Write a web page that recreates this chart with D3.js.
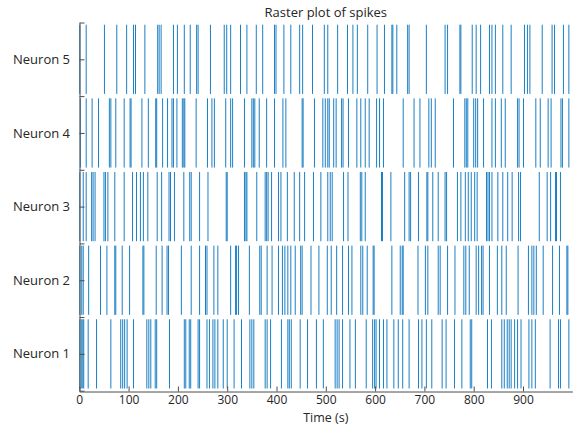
<!DOCTYPE html>
<html>
<head>
<meta charset="utf-8">
<script src="https://cdn.jsdelivr.net/npm/d3@7"></script>
<style>
    body { margin: 0; background: #fff; }
    text { font-family: "Open Sans", sans-serif; fill: #262626; }
</style>
</head>
<body>
<div id="root"></div>
<script>
// ---------------------------- DATA ----------------------------
// Spike times (s), one array per neuron
const neuron1 = [1, 4, 7, 9, 18, 35, 64, 84, 88, 92, 97, 110, 137, 141, 145, 154, 157, 183, 213, 216, 223, 226, 241, 244, 259, 264, 271, 275, 281, 292, 300, 314, 329, 346, 350, 354, 377, 381, 388, 410, 423, 426, 430, 448, 463, 481, 495, 519, 523, 527, 534, 549, 560, 582, 595, 599, 602, 609, 617, 624, 638, 647, 656, 669, 688, 695, 704, 715, 736, 744, 761, 776, 793, 796, 828, 836, 857, 862, 868, 872, 876, 883, 889, 896, 912, 918, 925, 955, 972, 976, 993];
const neuron2 = [1, 5, 8, 19, 43, 56, 72, 74, 87, 102, 129, 131, 156, 168, 178, 181, 207, 227, 244, 256, 259, 273, 281, 307, 317, 319, 323, 345, 366, 369, 381, 391, 404, 412, 417, 423, 429, 438, 449, 452, 470, 486, 503, 511, 522, 534, 546, 553, 571, 575, 584, 596, 598, 634, 651, 655, 657, 687, 702, 707, 728, 732, 747, 762, 780, 784, 791, 805, 810, 816, 819, 832, 848, 857, 866, 890, 911, 918, 922, 927, 941, 960, 974, 989, 991];
const neuron3 = [1, 8, 14, 25, 28, 32, 50, 53, 58, 72, 91, 108, 116, 124, 130, 139, 158, 167, 182, 185, 193, 212, 224, 227, 244, 261, 298, 300, 335, 338, 340, 360, 377, 380, 383, 390, 404, 409, 422, 436, 447, 457, 475, 490, 504, 509, 513, 536, 545, 570, 573, 580, 613, 615, 632, 660, 669, 672, 688, 705, 707, 717, 728, 742, 745, 767, 774, 783, 789, 795, 802, 807, 826, 829, 832, 837, 849, 859, 869, 878, 891, 895, 933, 949, 956, 966, 968, 976];
const neuron4 = [2, 14, 26, 39, 61, 64, 74, 91, 103, 105, 127, 140, 155, 157, 169, 179, 188, 191, 198, 209, 212, 214, 237, 260, 269, 274, 297, 307, 311, 335, 350, 353, 356, 365, 380, 396, 413, 419, 452, 454, 477, 494, 499, 504, 507, 516, 521, 532, 535, 546, 563, 571, 580, 588, 603, 609, 617, 657, 679, 691, 709, 714, 722, 759, 782, 785, 788, 800, 804, 808, 820, 837, 844, 856, 864, 889, 892, 901, 926, 935, 951, 957, 977, 980, 993];
const neuron5 = [1, 14, 51, 76, 96, 110, 114, 133, 159, 162, 166, 191, 199, 213, 225, 238, 241, 266, 294, 299, 307, 327, 340, 359, 372, 396, 399, 415, 429, 447, 453, 473, 497, 504, 524, 544, 555, 564, 585, 604, 619, 634, 636, 644, 666, 669, 704, 742, 747, 772, 774, 797, 805, 814, 832, 837, 844, 859, 876, 903, 909, 914, 939, 959, 964, 982, 993];

const spikeTrains = [neuron1, neuron2, neuron3, neuron4, neuron5];
const neuronLabels = ["Neuron 1", "Neuron 2", "Neuron 3", "Neuron 4", "Neuron 5"];
const timeTicks = [0, 100, 200, 300, 400, 500, 600, 700, 800, 900];

// ---------------------------- SETUP ----------------------------
const width = 576;
const height = 427;
const spikeColor = "#0072BD";
const axisColor = "#4d4d4d";

const x = d3.scaleLinear()
    .domain([0, 1000])
    .range([79.3, 572.3]);
const y = d3.scaleLinear()
    .domain([0.5, 5.5])
    .range([390.7, 22.5]);

const svg = d3.select("#root")
    .append("svg")
    .attr("width", width)
    .attr("height", height);

// ---------------------------- SPIKES ----------------------------
spikeTrains.forEach((train, i) => {
    svg.append("g")
        .attr("class", "neuron")
        .selectAll("line")
        .data(train)
        .enter()
        .append("line")
        .attr("x1", d => x(d))
        .attr("x2", d => x(d))
        .attr("y1", y(i + 1 - 0.47))
        .attr("y2", y(i + 1 + 0.47))
        .attr("stroke", spikeColor)
        .attr("stroke-width", 0.9);
});

// ---------------------------- AXES ----------------------------
// x axis, ticks pointing inwards (MATLAB style)
const xAxis = svg.append("g")
    .attr("transform", "translate(0," + Math.round(y(0.5)) + ".5)")
    .call(d3.axisBottom(x).tickValues(timeTicks).tickSize(-5).tickPadding(4).tickSizeOuter(0));
xAxis.select(".domain").attr("stroke", axisColor);
xAxis.selectAll(".tick line").attr("stroke", axisColor);
xAxis.selectAll(".tick text")
    .attr("dy", "0.71em")
    .style("font-family", "Open Sans, sans-serif")
    .style("font-size", "12px")
    .attr("fill", "#404040");

// y axis: ticks at every half step, labels only on neurons
const yAxis = svg.append("g")
    .attr("transform", "translate(" + Math.round(x(0)) + ".5,0)")
    .call(d3.axisLeft(y).tickValues([0.5, 1, 1.5, 2, 2.5, 3, 3.5, 4, 4.5, 5, 5.5]).tickSize(-5).tickSizeOuter(0).tickFormat(""));
yAxis.select(".domain").attr("stroke", axisColor);
yAxis.selectAll(".tick line").attr("stroke", axisColor);

svg.append("g")
    .selectAll("text")
    .data(neuronLabels)
    .enter()
    .append("text")
    .attr("x", 70)
    .attr("y", (d, i) => y(i + 1))
    .attr("dy", "0.35em")
    .attr("text-anchor", "end")
    .style("font-size", "13px")
    .text(d => d);

// ---------------------------- TITLES ----------------------------
svg.append("text")
    .attr("x", (x.range()[0] + x.range()[1]) / 2)
    .attr("y", 17)
    .attr("text-anchor", "middle")
    .style("font-size", "13px")
    .text("Raster plot of spikes");

svg.append("text")
    .attr("x", (x.range()[0] + x.range()[1]) / 2)
    .attr("y", 422)
    .attr("text-anchor", "middle")
    .style("font-size", "12.5px")
    .text("Time (s)");
</script>
</body>
</html>
